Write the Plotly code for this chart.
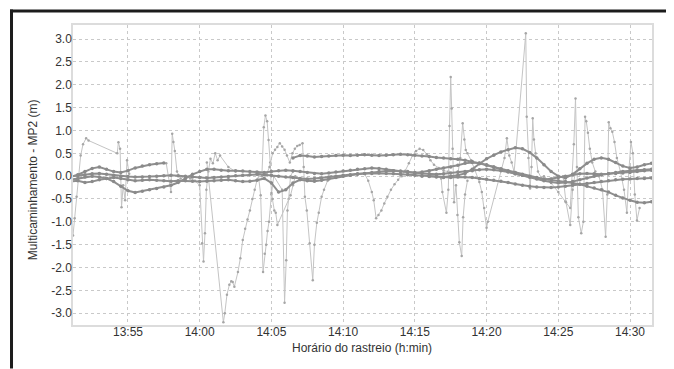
import pandas as pd
import plotly.graph_objects as go

DAY = "2016-05-10 "

# ---------------- smooth (low-noise) satellites: values every 30 s ----------------
SA_START = "13:51:00"
SA_VALS = [0.00, 0.01, 0.03, 0.05, 0.06, 0.04, 0.02, 0.00, -0.01, -0.02,
           -0.02, -0.01, 0.00, 0.01, 0.02, 0.01, 0.00, -0.02, -0.03, -0.04,
           -0.03, -0.02, -0.01, 0.01, 0.02, 0.03, 0.04, 0.03, 0.02, 0.00,
           -0.02, -0.03, -0.05, -0.06, -0.05, -0.04, -0.02, 0.00, 0.02, 0.03,
           0.05, 0.06, 0.06, 0.07, 0.06, 0.05, 0.04, 0.03, 0.02, 0.00,
           -0.01, -0.02, -0.03, -0.03, -0.02, -0.02, -0.03, -0.05, -0.07, -0.09,
           -0.11, -0.14, -0.17, -0.20, -0.22, -0.24, -0.25, -0.25, -0.24, -0.22,
           -0.20, -0.18, -0.16, -0.14, -0.12, -0.10, -0.08, -0.07, -0.06, -0.05,
           -0.05, -0.04]

SB_START = "13:51:00"
SB_VALS = [-0.08, -0.05, -0.02, 0.00, -0.02, -0.05, -0.12, -0.22, -0.32, -0.36,
           -0.33, -0.30, -0.27, -0.24, -0.20, -0.14, -0.05, 0.04, 0.10, 0.15,
           0.15, 0.13, 0.12, 0.12, 0.11, 0.10, 0.09, 0.08, 0.10, 0.12,
           0.13, 0.12, 0.10, 0.08, 0.06, 0.05, 0.07, 0.09, 0.11, 0.13,
           0.15, 0.16, 0.18, 0.17, 0.15, 0.12, 0.10, 0.08, 0.07, 0.09,
           0.12, 0.15, 0.18, 0.20, 0.24, 0.28, 0.30, 0.29, 0.25, 0.20,
           0.15, 0.10, 0.05, 0.02, -0.02, -0.05, -0.08, -0.06, -0.03, 0.00,
           0.03, 0.05, 0.06, 0.05, 0.04, 0.05, 0.08, 0.10, 0.12, 0.13,
           0.14, 0.15]

SC_START = "14:06:30"
SC_VALS = [0.40, 0.45, 0.44, 0.42,
           0.43, 0.44, 0.45, 0.46, 0.45, 0.46, 0.47, 0.46, 0.45, 0.46,
           0.47, 0.48, 0.47, 0.46, 0.44, 0.43, 0.41, 0.40, 0.38, 0.37,
           0.35, 0.32, 0.28, 0.24, 0.20, 0.16, 0.12, 0.08, 0.04, 0.00,
           -0.03, -0.06, -0.08, -0.10, -0.12, -0.15, -0.18, -0.22, -0.26, -0.30,
           -0.35, -0.42, -0.48, -0.53, -0.57, -0.58, -0.56]

SD_START = "13:51:00"
SD_VALS = [-0.12, -0.10, -0.14, -0.12, -0.08, -0.05, -0.03, -0.05, -0.08, -0.10,
           -0.09, -0.08, -0.09, -0.10, -0.11, -0.10, -0.10, -0.11, -0.12, -0.11,
           -0.10, -0.09, -0.08, -0.10, -0.12, -0.11, -0.09, -0.05, -0.15, -0.35,
           -0.30, -0.15, -0.08, -0.10, -0.11, -0.09, -0.06, -0.03, 0.00, 0.02,
           0.04, 0.06, 0.08, 0.10, 0.11, 0.12, 0.11, 0.10, 0.08, 0.06,
           0.05, 0.04, 0.05, 0.07, 0.09, 0.10, 0.12, 0.14, 0.15, 0.14,
           0.12, 0.09, 0.05, 0.02, -0.02, -0.06, -0.10, -0.13, -0.15, -0.14,
           -0.12, -0.08, -0.04, 0.00, 0.03, 0.05, 0.06, 0.07, 0.08, 0.10,
           0.12, 0.13]

SE_START = "14:16:00"
SE_VALS = [0.00, -0.01, -0.02, 0.00, 0.02, 0.06, 0.15, 0.27, 0.38, 0.46,
           0.53, 0.58, 0.62, 0.60, 0.52, 0.40, 0.25, 0.10, 0.00, -0.04,
           0.04, 0.16, 0.28, 0.37, 0.40, 0.37, 0.30, 0.22, 0.18, 0.20,
           0.25, 0.28]

SF_START = "13:51:00"
SF_VALS = [-0.02, 0.03, 0.10, 0.17, 0.20, 0.15, 0.10, 0.08, 0.12, 0.18,
           0.22, 0.25, 0.27, 0.29]

SMOOTH = [(SA_START, SA_VALS), (SB_START, SB_VALS), (SC_START, SC_VALS),
          (SD_START, SD_VALS), (SE_START, SE_VALS), (SF_START, SF_VALS)]

# ---------------- noisy (low-elevation) satellites ----------------
P1_T = ["13:51:10", "13:51:17", "13:51:25", "13:51:33", "13:51:42", "13:51:52", "13:52:05", "13:52:15",
        "13:54:15", "13:54:20", "13:54:27", "13:54:33", "13:54:40", "13:54:48", "13:54:56", "13:55:05"]
P1_V = [-1.30, -0.92, -0.45, -0.05, 0.45, 0.70, 0.83, 0.78,
        0.50, 0.74, 0.60, -0.68, -0.20, -0.53, 0.35, 0.05]

P2_T = ["13:57:40", "13:58:00", "13:58:05", "13:58:10", "13:58:16", "13:58:25", "13:58:40", "13:59:00",
        "13:59:20", "13:59:40", "14:00:00", "14:00:10", "14:00:16", "14:00:22", "14:00:28", "14:00:36",
        "14:00:45", "14:00:55", "14:01:05", "14:01:15", "14:01:25", "14:02:00", "14:02:30"]
P2_V = [0.28, -0.35, 0.93, 0.75, 0.55, 0.10, -0.05, 0.00,
        -0.05, -0.10, -0.20, -1.47, -1.87, -1.25, -0.30, 0.10,
        0.38, 0.28, 0.50, 0.35, 0.45, 0.20, 0.10]

P3_T = ["14:00:30", "14:01:39", "14:01:45", "14:01:54", "14:02:04", "14:02:12", "14:02:18", "14:02:25",
        "14:02:40", "14:02:50", "14:03:00", "14:03:10", "14:03:20", "14:03:30", "14:03:40", "14:03:50",
        "14:04:00", "14:04:10"]
P3_V = [0.30, -3.20, -3.00, -2.60, -2.38, -2.30, -2.32, -2.42,
        -2.10, -1.80, -1.40, -1.15, -0.95, -0.75, -0.50, -0.30,
        -0.08, 0.05]

P4_T = ["14:04:05", "14:04:15", "14:04:25", "14:04:32", "14:04:38", "14:04:44", "14:04:50", "14:05:00",
        "14:05:10", "14:05:45", "14:05:55", "14:06:02", "14:06:07", "14:06:12", "14:06:20", "14:06:30"]
P4_V = [0.05, -0.42, -2.10, -1.70, -1.50, -1.20, -1.00, -0.40,
        0.00, -0.30, -2.77, -1.84, -0.75, -0.50, 0.00, 0.10]

P5_T = ["14:04:20", "14:04:28", "14:04:35", "14:04:42", "14:04:48", "14:04:55", "14:05:00", "14:05:05",
        "14:05:12", "14:05:18", "14:05:25", "14:06:20", "14:06:30", "14:06:40"]
P5_V = [0.00, 1.07, 1.33, 1.20, 0.79, 0.30, -0.37, -0.50,
        -0.75, -0.80, -1.07, -0.42, -0.20, 0.00]

P6_T = ["14:04:40", "14:04:52", "14:05:05", "14:05:15", "14:05:25", "14:05:35", "14:05:45", "14:05:55",
        "14:06:05", "14:06:17", "14:06:28", "14:06:38", "14:06:48", "14:06:58", "14:07:10", "14:07:15",
        "14:07:20", "14:07:28", "14:07:40", "14:07:53", "14:08:00", "14:08:10", "14:08:18", "14:08:30",
        "14:08:40", "14:08:55", "14:09:10"]
P6_V = [0.05, 0.20, 0.50, 0.58, 0.64, 0.72, 0.65, 0.58,
        0.45, 0.30, 0.50, 0.60, 0.66, 0.68, 0.72, 0.20,
        -0.45, -0.75, -1.47, -2.28, -1.50, -1.02, -0.80, -0.45,
        -0.30, -0.10, 0.00]

P7_T = ["14:11:30", "14:11:45", "14:12:00", "14:12:08", "14:12:18", "14:12:28", "14:12:40", "14:12:52",
        "14:13:05", "14:13:20", "14:13:35", "14:13:50", "14:14:05", "14:14:20", "14:14:35", "14:14:50",
        "14:15:05", "14:15:20", "14:15:35", "14:15:50", "14:16:05", "14:16:20", "14:16:40", "14:17:00",
        "14:17:20"]
P7_V = [0.05, -0.10, -0.35, -0.53, -0.92, -0.85, -0.75, -0.60,
        -0.45, -0.30, -0.18, -0.08, 0.00, 0.12, 0.28, 0.45,
        0.55, 0.60, 0.57, 0.48, 0.35, 0.25, 0.18, 0.12,
        0.10]

P8_T = ["14:16:50", "14:16:55", "14:17:12", "14:17:20", "14:17:25", "14:17:30", "14:17:34", "14:17:38",
        "14:17:44", "14:17:52", "14:17:58", "14:18:06", "14:18:16", "14:18:22", "14:18:30", "14:18:40"]
P8_V = [-0.05, -0.35, -0.80, -0.30, 1.10, 2.17, 1.48, 0.60,
        -0.57, -0.20, -0.85, -1.45, -1.75, -0.90, -0.40, -0.10]

P9_T = ["14:18:00", "14:18:10", "14:18:20", "14:18:27", "14:18:33", "14:18:40", "14:18:55", "14:19:10",
        "14:19:30", "14:19:40", "14:19:50", "14:20:00", "14:20:05", "14:21:15", "14:21:25", "14:21:35",
        "14:21:45", "14:21:55"]
P9_V = [0.05, 0.40, 1.16, 0.80, 0.57, 0.50, 0.35, 0.15,
        -0.13, -0.35, -0.70, -1.13, -1.00, 0.40, 0.83, 0.45,
        0.30, 0.10]

P10_T = ["14:21:55", "14:22:44", "14:22:48", "14:22:55", "14:23:02", "14:23:08", "14:23:13", "14:23:18",
         "14:23:25", "14:23:35", "14:23:50"]
P10_V = [0.07, 3.13, 1.30, 0.40, -0.27, 0.20, 1.27, 0.80,
         0.50, 0.10, -0.05]

P11_T = ["14:24:00", "14:24:30", "14:25:00", "14:25:30", "14:25:50", "14:26:05", "14:26:12", "14:26:18",
         "14:26:24", "14:26:36", "14:26:45", "14:26:52", "14:26:57", "14:27:04", "14:27:12", "14:27:22",
         "14:27:35"]
P11_V = [0.00, -0.15, -0.35, -0.55, -0.70, 0.70, 1.70, 0.20,
         -0.90, -1.25, -1.00, 1.30, 1.20, 0.95, 0.60, 0.30,
         0.10]

P12_T = ["14:25:20", "14:25:32", "14:25:50", "14:26:00", "14:26:10"]
P12_V = [0.00, -0.57, -1.07, -0.30, 0.05]

P13_T = ["14:27:50", "14:28:05", "14:28:18", "14:28:25", "14:28:31", "14:28:38", "14:28:46", "14:28:55",
         "14:29:05", "14:29:20", "14:29:35", "14:29:47", "14:29:55", "14:30:04", "14:30:12", "14:30:20",
         "14:30:29", "14:30:40"]
P13_V = [0.00, -0.30, -1.33, -0.40, 1.18, 1.05, 0.97, 0.75,
         0.40, 0.10, -0.30, -0.80, 0.10, 0.75, 0.50, -0.40,
         -0.97, -0.70]

NOISY = [(P1_T, P1_V), (P2_T, P2_V), (P3_T, P3_V), (P4_T, P4_V), (P5_T, P5_V),
         (P6_T, P6_V), (P7_T, P7_V), (P8_T, P8_V), (P9_T, P9_V), (P10_T, P10_V),
         (P11_T, P11_V), (P12_T, P12_V), (P13_T, P13_V)]

# ---------------- axes ----------------
X_RANGE = ["13:51:10", "14:31:32"]
X_TICK_LABELS = ["13:55", "14:00", "14:05", "14:10", "14:15", "14:20", "14:25", "14:30"]
Y_RANGE = [-3.26, 3.31]
Y_TICKS = [-3.0, -2.5, -2.0, -1.5, -1.0, -0.5, 0.0, 0.5, 1.0, 1.5, 2.0, 2.5, 3.0]

X_TITLE = "Horário do rastreio (h:min)"
Y_TITLE = "Multicaminhamento - MP2 (m)"

FONT = "Liberation Sans, Arial, sans-serif"

fig = go.Figure()

for t, v in NOISY:
    fig.add_trace(go.Scatter(
        x=[DAY + s for s in t], y=v, mode="lines+markers",
        line=dict(color="#c4c4c4", width=1),
        marker=dict(color="#a6a6a6", size=2.5),
        hoverinfo="skip", showlegend=False))

for start, vals in SMOOTH:
    xs = pd.date_range(DAY + start, periods=len(vals), freq="30s")
    fig.add_trace(go.Scatter(
        x=xs, y=vals, mode="lines+markers",
        line=dict(color="#8e8e8e", width=2),
        marker=dict(color="#8a8a8a", size=3.5),
        hoverinfo="skip", showlegend=False))

# the page body has an 8 px margin; figure positions account for it
fig.update_layout(
    width=666, height=361,
    margin=dict(l=65, r=22, t=17, b=44),
    paper_bgcolor="white", plot_bgcolor="white",
    font=dict(family=FONT, size=12, color="#333333"),
    showlegend=False,
)

fig.update_xaxes(
    type="date",
    range=[DAY + X_RANGE[0], DAY + X_RANGE[1]],
    tickvals=[DAY + s for s in X_TICK_LABELS],
    ticktext=X_TICK_LABELS,
    showgrid=True, gridcolor="#c9c9c9", griddash="dot", gridwidth=1,
    showline=True, mirror=True, linecolor="#dcdcdc", linewidth=1.5,
    ticks="", ticklabelstandoff=-5,
    tickfont=dict(size=12, color="#333333"),
    zeroline=False, automargin=False,
)
fig.update_yaxes(
    range=Y_RANGE,
    tickvals=Y_TICKS,
    ticktext=[f"{v:.1f}" for v in Y_TICKS],
    showgrid=True, gridcolor="#c9c9c9", griddash="dot", gridwidth=1,
    showline=True, mirror=True, linecolor="#dcdcdc", linewidth=1.5,
    ticks="", ticklabelstandoff=-3,
    tickfont=dict(size=12, color="#333333"),
    zeroline=False, automargin=False,
)

fig.add_annotation(text=X_TITLE, xref="paper", yref="paper", x=0.499, y=-0.077,
                   xanchor="center", yanchor="middle", showarrow=False,
                   font=dict(size=12, color="#333333", family=FONT))
fig.add_annotation(text=Y_TITLE, xref="paper", yref="paper", x=-0.069, y=0.483,
                   xanchor="center", yanchor="middle", showarrow=False, textangle=-90,
                   font=dict(size=12, color="#333333", family=FONT))

# outer black frame of the figure: top and left edges only, kept inside the figure
fig.add_shape(type="line", xref="paper", yref="paper",
              x0=-0.1088, x1=1.035, y0=1.0467, y1=1.0467,
              line=dict(color="#1c1c1c", width=3), layer="above")
fig.add_shape(type="line", xref="paper", yref="paper",
              x0=-0.1062, x1=-0.1062, y0=-0.145, y1=1.0517,
              line=dict(color="#1c1c1c", width=3), layer="above")

fig.write_html("out.html")
